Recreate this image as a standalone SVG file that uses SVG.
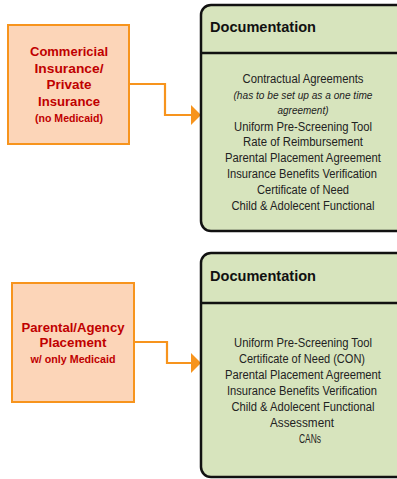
<svg xmlns="http://www.w3.org/2000/svg" width="397" height="479" viewBox="0 0 397 479">
<style>
.src{fill:#fcd5b8;stroke:#f7941d;stroke-width:2}
.doc{fill:#d7e4bd;stroke:#111;stroke-width:2.5}
.div{stroke:#111;stroke-width:2.5}
.red{font-family:"Liberation Sans",Arial,sans-serif;font-weight:bold;fill:#c00000;text-anchor:middle}
.hd{font-family:"Liberation Sans",Arial,sans-serif;font-weight:bold;font-size:15px;fill:#111}
.it{font-family:"Liberation Sans",Arial,sans-serif;font-size:12.5px;fill:#222;text-anchor:middle}
.itl{font-family:"Liberation Sans",Arial,sans-serif;font-size:10.5px;font-style:italic;fill:#222;text-anchor:middle}
.con{fill:none;stroke:#f7941d;stroke-width:2.2}
</style>
<defs>
<marker id="ah" viewBox="0 0 10 20" refX="0" refY="10" markerWidth="10" markerHeight="20" markerUnits="userSpaceOnUse" orient="auto">
<path d="M0,0 L10,10 L0,20 z" fill="#f7941d"/>
</marker>
</defs>
<rect width="397" height="479" fill="#fff"/>
<g id="connectors">
<path class="con" d="M127,84 H165 V115 H191" marker-end="url(#ah)"/>
<path class="con" d="M133,342 H167 V363 H191" marker-end="url(#ah)"/>
</g>
<g id="commercial">
<rect class="src" x="8" y="25" width="121" height="119"/>
<text class="red" font-size="13" x="69" y="56" textLength="78" lengthAdjust="spacingAndGlyphs">Commericial</text>
<text class="red" font-size="13" x="69" y="73" textLength="69" lengthAdjust="spacingAndGlyphs">Insurance/</text>
<text class="red" font-size="13" x="69" y="89" textLength="45" lengthAdjust="spacingAndGlyphs">Private</text>
<text class="red" font-size="13" x="69" y="106" textLength="62" lengthAdjust="spacingAndGlyphs">Insurance</text>
<text class="red" font-size="11" x="69" y="122" textLength="68" lengthAdjust="spacingAndGlyphs">(no Medicaid)</text>
</g>
<g id="doc1">
<rect class="doc" x="201" y="5" width="215" height="226" rx="10"/>
<line class="div" x1="201" y1="53" x2="397" y2="53"/>
<text class="hd" x="210" y="32" textLength="106" lengthAdjust="spacingAndGlyphs">Documentation</text>
<text class="it" x="303" y="83" textLength="121" lengthAdjust="spacingAndGlyphs">Contractual Agreements</text>
<text class="itl" x="303" y="99" textLength="139" lengthAdjust="spacingAndGlyphs">(has to be set up as a one time</text>
<text class="itl" x="303" y="114" textLength="51" lengthAdjust="spacingAndGlyphs">agreement)</text>
<text class="it" x="303" y="131" textLength="138" lengthAdjust="spacingAndGlyphs">Uniform Pre-Screening Tool</text>
<text class="it" x="303" y="146" textLength="120" lengthAdjust="spacingAndGlyphs">Rate of Reimbursement</text>
<text class="it" x="303" y="162" textLength="156" lengthAdjust="spacingAndGlyphs">Parental Placement Agreement</text>
<text class="it" x="302" y="178" textLength="150" lengthAdjust="spacingAndGlyphs">Insurance Benefits Verification</text>
<text class="it" x="303" y="194" textLength="92" lengthAdjust="spacingAndGlyphs">Certificate of Need</text>
<text class="it" x="303" y="210" textLength="143" lengthAdjust="spacingAndGlyphs">Child &amp; Adolecent Functional</text>
</g>
<g id="parental">
<rect class="src" x="12" y="283" width="122" height="119"/>
<text class="red" font-size="13" x="73" y="332" textLength="103" lengthAdjust="spacingAndGlyphs">Parental/Agency</text>
<text class="red" font-size="13" x="73" y="347" textLength="67" lengthAdjust="spacingAndGlyphs">Placement</text>
<text class="red" font-size="11" x="73" y="363" textLength="85" lengthAdjust="spacingAndGlyphs">w/ only Medicaid</text>
</g>
<g id="doc2">
<rect class="doc" x="201" y="253" width="215" height="224" rx="10"/>
<line class="div" x1="201" y1="303" x2="397" y2="303"/>
<text class="hd" x="210" y="281" textLength="106" lengthAdjust="spacingAndGlyphs">Documentation</text>
<text class="it" x="303" y="347" textLength="138" lengthAdjust="spacingAndGlyphs">Uniform Pre-Screening Tool</text>
<text class="it" x="302" y="363" textLength="126" lengthAdjust="spacingAndGlyphs">Certificate of Need (CON)</text>
<text class="it" x="303" y="379" textLength="156" lengthAdjust="spacingAndGlyphs">Parental Placement Agreement</text>
<text class="it" x="302" y="395" textLength="150" lengthAdjust="spacingAndGlyphs">Insurance Benefits Verification</text>
<text class="it" x="303" y="411" textLength="143" lengthAdjust="spacingAndGlyphs">Child &amp; Adolecent Functional</text>
<text class="it" x="302" y="427" textLength="64" lengthAdjust="spacingAndGlyphs">Assessment</text>
<text class="it" x="310" y="443" font-size="10.5" textLength="22" lengthAdjust="spacingAndGlyphs">CANs</text>
</g>
</svg>
